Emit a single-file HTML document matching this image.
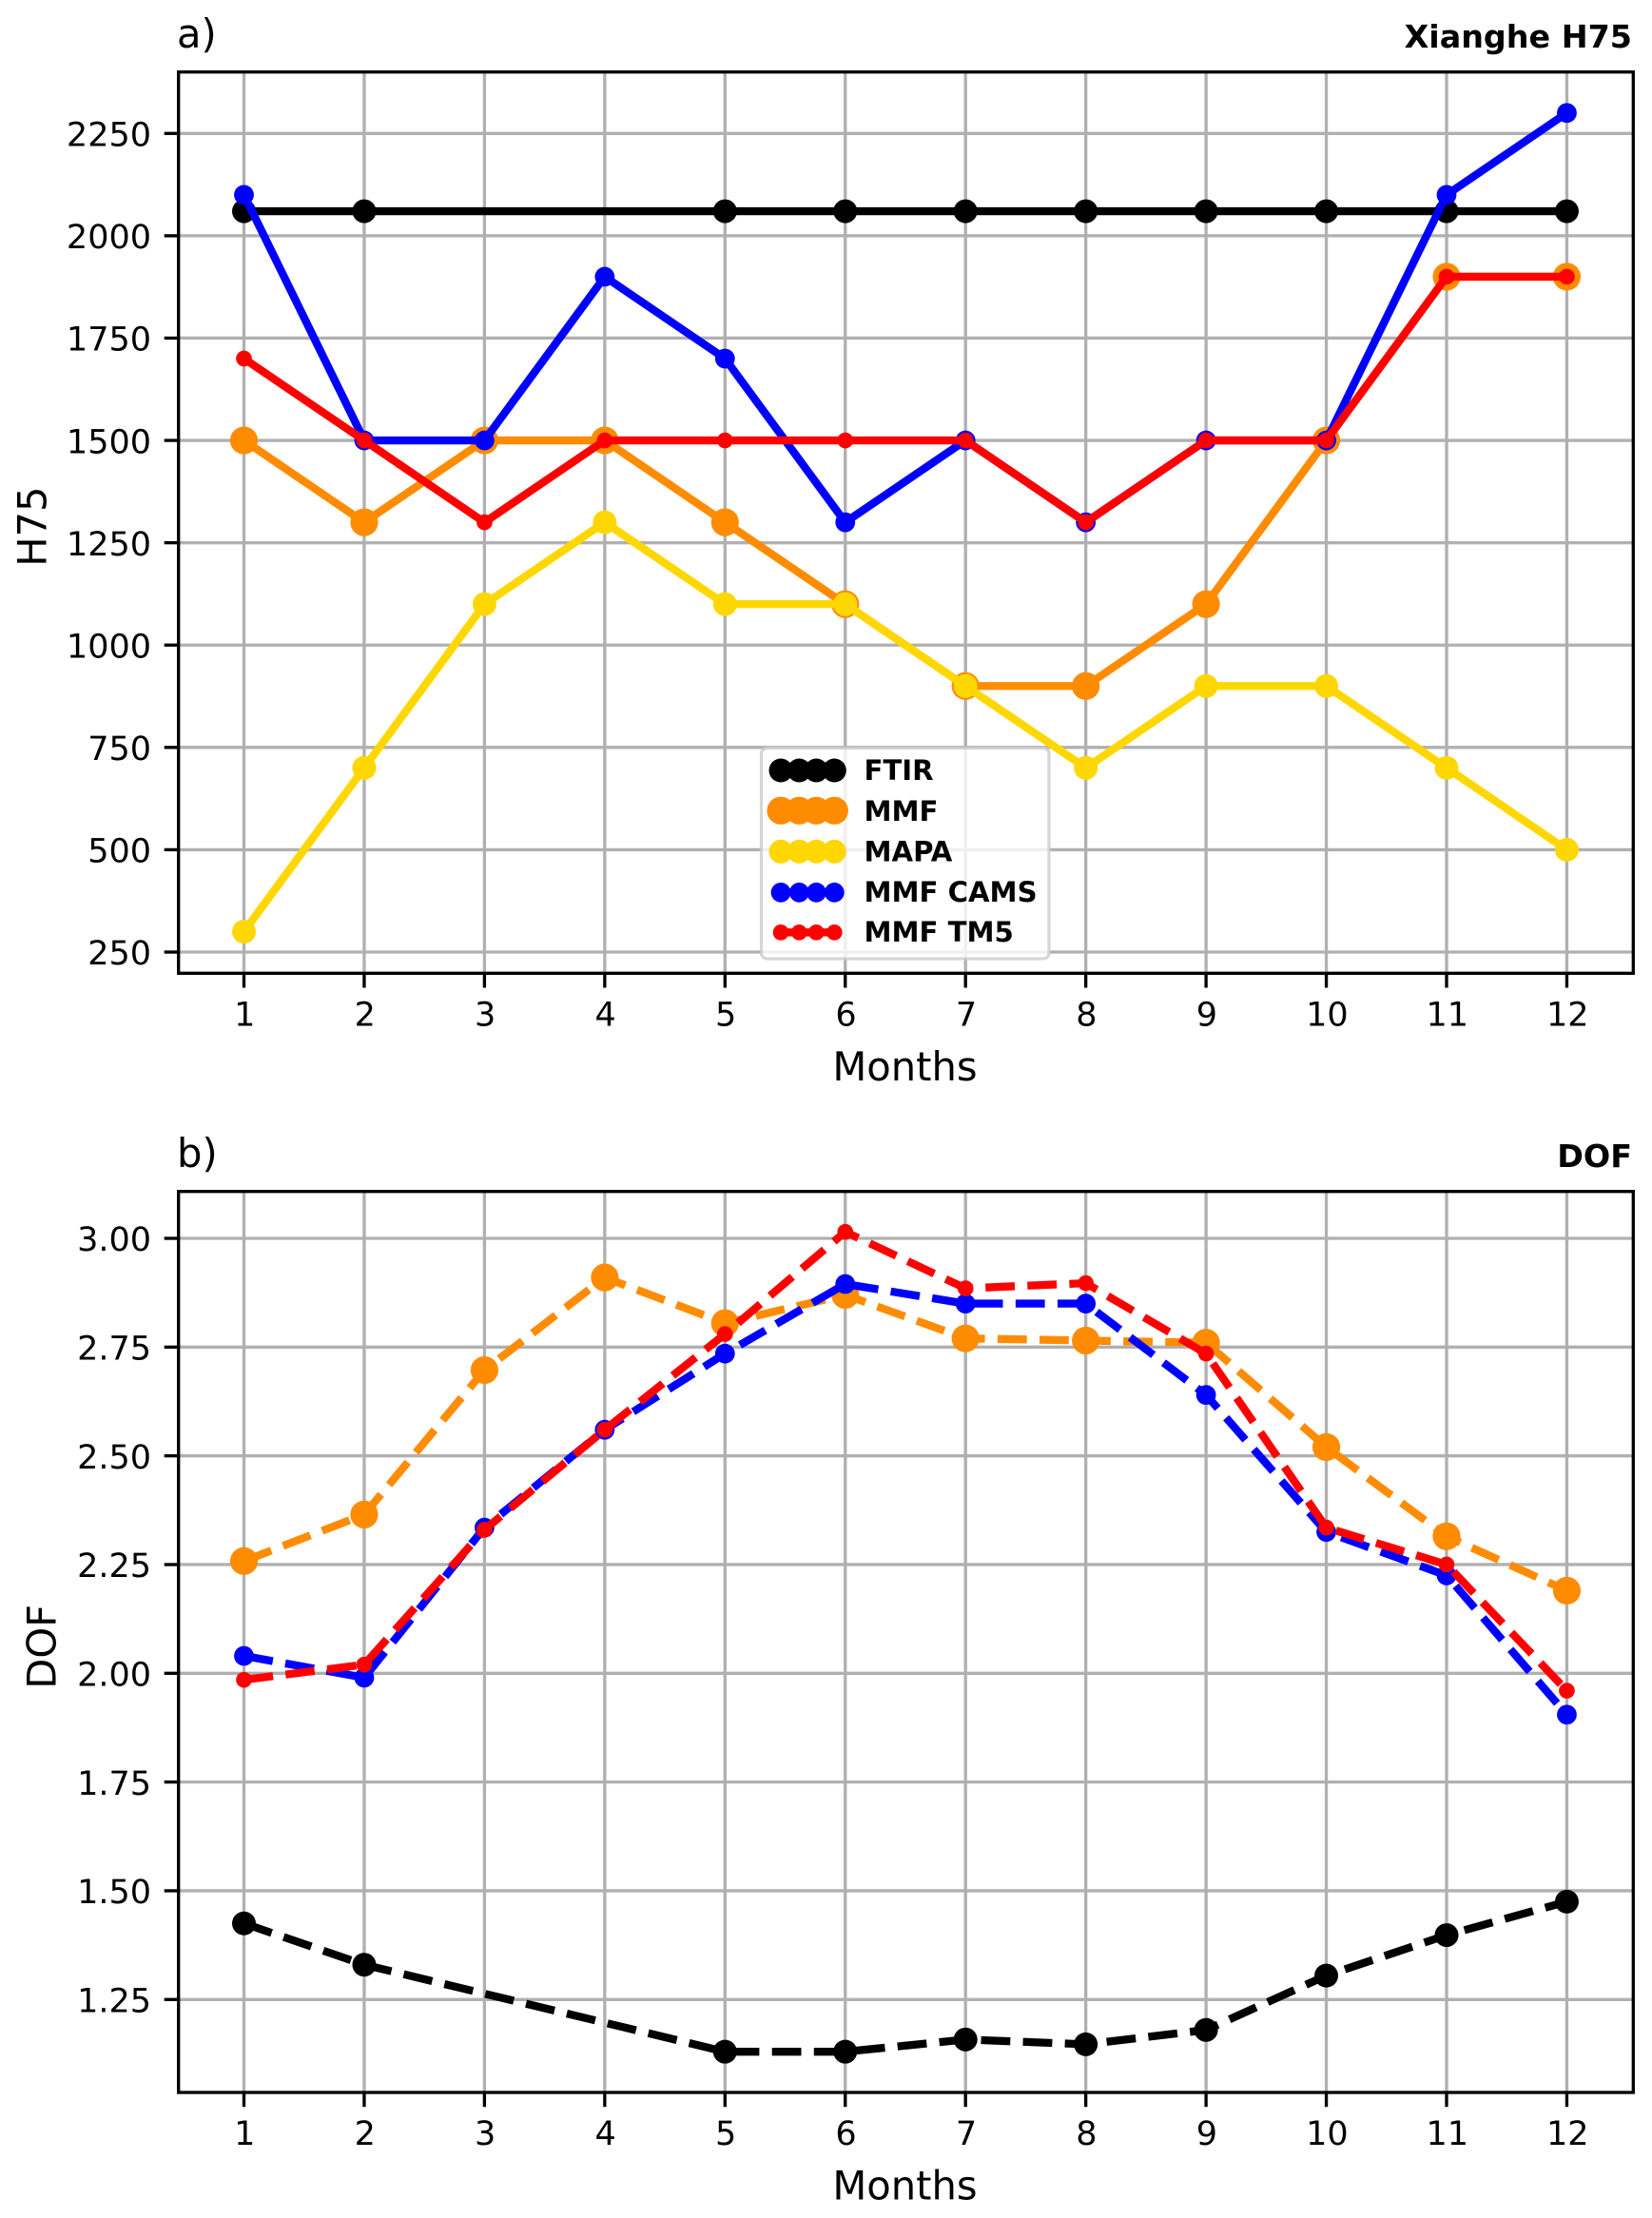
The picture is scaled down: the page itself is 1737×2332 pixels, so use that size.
<!DOCTYPE html>
<html lang="en">
<head>
<meta charset="utf-8">
<title>Xianghe H75 and DOF</title>
<style>
html,body{margin:0;padding:0;background:#fff;}
svg{display:block;}
text{font-family:"DejaVu Sans","Liberation Sans",sans-serif;fill:#000;}
</style>
</head>
<body>
<svg id="fig" xmlns="http://www.w3.org/2000/svg" width="1737" height="2332" viewBox="0 0 1737 2332">
  <rect x="0" y="0" width="1737" height="2332" fill="#ffffff"/>
  <g id="panelA"></g>
  <g id="panelB"></g>
  <g id="legend">
    <rect x="800.5" y="786.5" width="302.5" height="221.5" rx="6" ry="6" fill="#ffffff" fill-opacity="0.8" stroke="#cccccc" stroke-opacity="0.8" stroke-width="3.33"/>
    <g>
      <line x1="821" x2="877.3" y1="810" y2="810" stroke="#000000" stroke-width="8.33"/>
      <circle cx="821" cy="810" r="12.5" fill="#000000"/><circle cx="840.3" cy="810" r="12.5" fill="#000000"/><circle cx="858.3" cy="810" r="12.5" fill="#000000"/><circle cx="877.3" cy="810" r="12.5" fill="#000000"/>
      <text x="908.5" y="820" font-size="29.17" font-weight="700">FTIR</text>
    </g>
    <g>
      <line x1="821" x2="877.3" y1="852.3" y2="852.3" stroke="#ff8c00" stroke-width="8.33"/>
      <circle cx="821" cy="852.3" r="14.6" fill="#ff8c00"/><circle cx="840.3" cy="852.3" r="14.6" fill="#ff8c00"/><circle cx="858.3" cy="852.3" r="14.6" fill="#ff8c00"/><circle cx="877.3" cy="852.3" r="14.6" fill="#ff8c00"/>
      <text x="908.5" y="863" font-size="29.17" font-weight="700">MMF</text>
    </g>
    <g>
      <line x1="821" x2="877.3" y1="895.3" y2="895.3" stroke="#ffd700" stroke-width="8.33"/>
      <circle cx="821" cy="895.3" r="12.5" fill="#ffd700"/><circle cx="840.3" cy="895.3" r="12.5" fill="#ffd700"/><circle cx="858.3" cy="895.3" r="12.5" fill="#ffd700"/><circle cx="877.3" cy="895.3" r="12.5" fill="#ffd700"/>
      <text x="908.5" y="905.5" font-size="29.17" font-weight="700">MAPA</text>
    </g>
    <g>
      <line x1="821" x2="877.3" y1="938.3" y2="938.3" stroke="#0000ff" stroke-width="8.33"/>
      <circle cx="821" cy="938.3" r="10.4" fill="#0000ff"/><circle cx="840.3" cy="938.3" r="10.4" fill="#0000ff"/><circle cx="858.3" cy="938.3" r="10.4" fill="#0000ff"/><circle cx="877.3" cy="938.3" r="10.4" fill="#0000ff"/>
      <text x="908.5" y="948" font-size="29.17" font-weight="700">MMF CAMS</text>
    </g>
    <g>
      <line x1="821" x2="877.3" y1="980.3" y2="980.3" stroke="#ff0000" stroke-width="8.33"/>
      <circle cx="821" cy="980.3" r="8.33" fill="#ff0000"/><circle cx="840.3" cy="980.3" r="8.33" fill="#ff0000"/><circle cx="858.3" cy="980.3" r="8.33" fill="#ff0000"/><circle cx="877.3" cy="980.3" r="8.33" fill="#ff0000"/>
      <text x="908.5" y="990" font-size="29.17" font-weight="700">MMF TM5</text>
    </g>
  </g>
</svg>
<script>
// ---- data ----
const months = [1, 2, 3, 4, 5, 6, 7, 8, 9, 10, 11, 12];
const ftirMonths = [1, 2, 5, 6, 7, 8, 9, 10, 11, 12];

const h75Ticks = [250, 500, 750, 1000, 1250, 1500, 1750, 2000, 2250];
const h75Ftir = [2060, 2060, 2060, 2060, 2060, 2060, 2060, 2060, 2060, 2060];
const h75Mmf = [1500, 1300, 1500, 1500, 1300, 1100, 900, 900, 1100, 1500, 1900, 1900];
const h75Mapa = [300, 700, 1100, 1300, 1100, 1100, 900, 700, 900, 900, 700, 500];
const h75Cams = [2100, 1500, 1500, 1900, 1700, 1300, 1500, 1300, 1500, 1500, 2100, 2300];
const h75Tm5 = [1700, 1500, 1300, 1500, 1500, 1500, 1500, 1300, 1500, 1500, 1900, 1900];

const dofTicks = [1.25, 1.5, 1.75, 2.0, 2.25, 2.5, 2.75, 3.0];
const dofFtir = [1.425, 1.33, 1.13, 1.13, 1.158, 1.147, 1.18, 1.305, 1.398, 1.475];
const dofMmf = [2.258, 2.365, 2.697, 2.91, 2.805, 2.87, 2.77, 2.765, 2.76, 2.52, 2.315, 2.19];
const dofCams = [2.04, 1.99, 2.335, 2.56, 2.735, 2.895, 2.85, 2.85, 2.64, 2.325, 2.225, 1.905];
const dofTm5 = [1.985, 2.02, 2.33, 2.56, 2.78, 3.015, 2.885, 2.897, 2.735, 2.335, 2.25, 1.96];

// ---- drawing ----
const NS = 'http://www.w3.org/2000/svg';
const AX_LEFT = 187.7, AX_RIGHT = 1717.3;

function xScale(m) { return 256.5 + (m - 1) * 126.45; }

function mk(parent, tag, attrs, txt) {
  const el = document.createElementNS(NS, tag);
  for (const k in attrs) el.setAttribute(k, attrs[k]);
  if (txt !== undefined) el.textContent = txt;
  parent.appendChild(el);
  return el;
}

function drawSeries(parent, name, xs, ys, yScale, color, radius, dashed) {
  const g = mk(parent, 'g', {});
  
  
  const pts = xs.map((m, i) => xScale(m).toFixed(2) + ',' + yScale(ys[i]).toFixed(2)).join(' ');
  const line = mk(g, 'polyline', {
    points: pts, fill: 'none', stroke: color, 'stroke-width': 8.33,
    'stroke-linejoin': 'round', 'stroke-linecap': dashed ? 'butt' : 'round'
  });
  if (dashed) line.setAttribute('stroke-dasharray', '30.8 13.3');
  
  
  xs.forEach((m, i) => {
    const c = mk(g, 'circle', { cx: xScale(m), cy: yScale(ys[i]), r: radius, fill: color });
    
    
  });
}

function drawPanel(cfg) {
  const p = cfg.parent;
  // grid
  const grid = mk(p, 'g', { stroke: '#b0b0b0', 'stroke-width': 3.33 });
  
  
  months.forEach(m => {
    mk(grid, 'line', { x1: xScale(m), x2: xScale(m), y1: cfg.top, y2: cfg.bottom });
  });
  cfg.ticks.forEach(t => {
    mk(grid, 'line', { x1: AX_LEFT, x2: AX_RIGHT, y1: cfg.yScale(t), y2: cfg.yScale(t) });
  });
  // series
  cfg.series.forEach(s => {
    drawSeries(p, s.name, s.xs, s.ys, cfg.yScale, s.color, s.r, cfg.dashed);
  });
  // spines
  const frame = mk(p, 'rect', {
    x: AX_LEFT, y: cfg.top, width: AX_RIGHT - AX_LEFT, height: cfg.bottom - cfg.top,
    fill: 'none', stroke: '#000', 'stroke-width': 3.33
  });
  
  
  // x ticks
  const xAxis = mk(p, 'g', {});
  
  
  months.forEach(m => {
    mk(xAxis, 'line', { x1: xScale(m), x2: xScale(m), y1: cfg.bottom, y2: cfg.bottom + 15.2, stroke: '#000', 'stroke-width': 3.33 });
    const t = mk(xAxis, 'text', { x: xScale(m) + 0.8, y: cfg.bottom + 55, 'font-size': 35, 'text-anchor': 'middle' }, String(m));
    
    
  });
  // y ticks
  const yAxis = mk(p, 'g', {});
  
  
  cfg.ticks.forEach(v => {
    const y = cfg.yScale(v);
    mk(yAxis, 'line', { x1: 172.7, x2: AX_LEFT, y1: y, y2: y, stroke: '#000', 'stroke-width': 3.33 });
    const t = mk(yAxis, 'text', { x: 159, y: y + 13.2, 'font-size': 35, 'text-anchor': 'end' }, cfg.fmt(v));
    
    
  });
  // titles
  const xt = mk(p, 'text', { x: 951.5, y: cfg.bottom + 112.7, 'font-size': 41.67, 'text-anchor': 'middle' }, 'Months');
  
  
  const yt = mk(p, 'text', {
    transform: 'translate(' + cfg.ylabelX + ',' + cfg.ylabelY + ') rotate(-90)',
    'font-size': 41.67, 'text-anchor': 'middle'
  }, cfg.ylabel);
  
  
  const lt = mk(p, 'text', { x: 186, y: cfg.top - 25.7, 'font-size': 41.67 }, cfg.letter);
  
  
  const rt = mk(p, 'text', { x: 1716, y: cfg.top - 25.7, 'font-size': 33.33, 'font-weight': 700, 'text-anchor': 'end' }, cfg.title);
  
  
}

drawPanel({
  parent: document.getElementById('panelA'),
  top: 75.7, bottom: 1023.3,
  yScale: v => 140.3 + (2250 - v) * 0.43035,
  ticks: h75Ticks,
  fmt: v => String(v),
  dashed: false,
  ylabel: 'H75', ylabelX: 48.3, ylabelY: 553.6,
  letter: 'a)', title: 'Xianghe H75',
  series: [
    { name: 'ftir', xs: ftirMonths, ys: h75Ftir, color: '#000000', r: 12.5 },
    { name: 'mmf', xs: months, ys: h75Mmf, color: '#ff8c00', r: 14.6 },
    { name: 'mapa', xs: months, ys: h75Mapa, color: '#ffd700', r: 12.5 },
    { name: 'mmf-cams', xs: months, ys: h75Cams, color: '#0000ff', r: 10.4 },
    { name: 'mmf-tm5', xs: months, ys: h75Tm5, color: '#ff0000', r: 8.33 }
  ]
});

drawPanel({
  parent: document.getElementById('panelB'),
  top: 1252.7, bottom: 2200,
  yScale: v => 1302 + (3 - v) * 457.3,
  ticks: dofTicks,
  fmt: v => v.toFixed(2),
  dashed: true,
  ylabel: 'DOF', ylabelX: 58.3, ylabelY: 1731.3,
  letter: 'b)', title: 'DOF',
  series: [
    { name: 'ftir', xs: ftirMonths, ys: dofFtir, color: '#000000', r: 12.5 },
    { name: 'mmf', xs: months, ys: dofMmf, color: '#ff8c00', r: 14.6 },
    { name: 'mmf-cams', xs: months, ys: dofCams, color: '#0000ff', r: 10.4 },
    { name: 'mmf-tm5', xs: months, ys: dofTm5, color: '#ff0000', r: 8.33 }
  ]
});

// keep the legend above the panels
const svgRoot = document.getElementById('fig');
svgRoot.appendChild(document.getElementById('legend'));
</script>
</body>
</html>
